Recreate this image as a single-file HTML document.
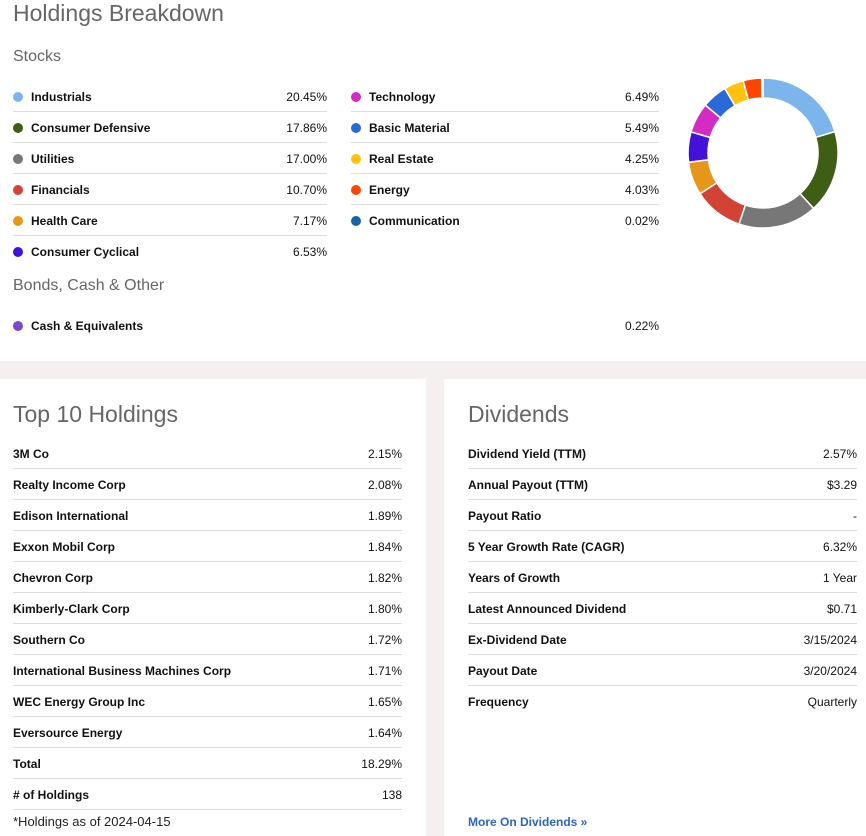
<!DOCTYPE html>
<html><head><meta charset="utf-8"><style>
body{margin:0;width:866px;height:836px;background:#f4f0ef;font-family:"Liberation Sans",Arial,sans-serif;position:relative;overflow:hidden}
.panel{position:absolute;background:#fff}
.h{position:absolute;color:#666;font-size:23px;white-space:nowrap}
.sub{position:absolute;color:#666;font-size:16px}
.row{position:absolute;height:31px;border-bottom:1px solid #ddd;font-size:12px;color:#111;box-sizing:border-box}
.row.last{border-bottom:none}
.row .l{position:absolute;top:9px;font-weight:bold}
.row .v{position:absolute;right:0;top:9px}
.dot{position:absolute;left:0;top:11px;width:10px;height:10px;border-radius:50%}
.foot{position:absolute;font-size:13px;color:#222}
.link{position:absolute;font-size:12px;font-weight:bold;color:#2a65c8}
</style></head><body>
<div class="panel" style="left:0;top:0;width:866px;height:361px"></div>
<div class="panel" style="left:0;top:379px;width:426px;height:457px"></div>
<div class="panel" style="left:444px;top:379px;width:422px;height:457px"></div>
<div class="h" style="left:13px;top:0px">Holdings Breakdown</div>
<div class="sub" style="left:13px;top:48px">Stocks</div>
<div class="sub" style="left:13px;top:277px">Bonds, Cash &amp; Other</div>
<div class="h" style="left:13px;top:401px">Top 10 Holdings</div>
<div class="h" style="left:468px;top:401px">Dividends</div>
<div class="foot" style="left:13px;top:814px">*Holdings as of 2024-04-15</div>
<div class="link" style="left:468px;top:815px">More On Dividends »</div>
<svg id="donut" style="position:absolute;left:680px;top:70px" width="170" height="170"></svg>
<div id="rows"></div>
<script>
const sectorNames=["Industrials","Consumer Defensive","Utilities","Financials","Health Care","Consumer Cyclical","Technology","Basic Material","Real Estate","Energy","Communication"];
const sectorValues=[20.45,17.86,17.00,10.70,7.17,6.53,6.49,5.49,4.25,4.03,0.02];
const sectorColors=["#7cb5ec","#3d5e14","#777777","#d24235","#e6961a","#4312d8","#d42bc4","#2a69d8","#ffc20e","#ff4500","#1565a8"];
const cashNames=["Cash & Equivalents"];
const cashValues=[0.22];
const cashColors=["#7a48c8"];
const topNames=["3M Co","Realty Income Corp","Edison International","Exxon Mobil Corp","Chevron Corp","Kimberly-Clark Corp","Southern Co","International Business Machines Corp","WEC Energy Group Inc","Eversource Energy","Total","# of Holdings"];
const topValues=["2.15%","2.08%","1.89%","1.84%","1.82%","1.80%","1.72%","1.71%","1.65%","1.64%","18.29%","138"];
const divNames=["Dividend Yield (TTM)","Annual Payout (TTM)","Payout Ratio","5 Year Growth Rate (CAGR)","Years of Growth","Latest Announced Dividend","Ex-Dividend Date","Payout Date","Frequency"];
const divValues=["2.57%","$3.29","-","6.32%","1 Year","$0.71","3/15/2024","3/20/2024","Quarterly"];

const root=document.getElementById('rows');
function slug(s){return s.toLowerCase().replace(/[^a-z0-9]+/g,'-').replace(/^-|-$/g,'');}
function addRow(x,y,w,label,val,color,last){
  const r=document.createElement('div');
  r.className='row'+(last?' last':'');
  
  
  r.style.left=x+'px';r.style.top=y+'px';r.style.width=w+'px';
  let off=0;
  if(color){
    const d=document.createElement('span');d.className='dot';d.style.background=color;d.style.left='0px';
    
    
    r.appendChild(d);off=18;
  }
  const l=document.createElement('span');l.className='l';l.style.left=off+'px';l.textContent=label;
  
  
  const v=document.createElement('span');v.className='v';v.textContent=val;
  
  
  r.appendChild(l);r.appendChild(v);root.appendChild(r);
}
sectorNames.forEach((n,i)=>{
  const col=i<6?0:1, k=i<6?i:i-6;
  const x=col?351:13, w=col?308:314;
  const last=col?k===4:k===5;
  addRow(x,81+k*31,w,n,sectorValues[i].toFixed(2)+'%',sectorColors[i],last);
});
cashNames.forEach((n,i)=>addRow(13,310+i*31,646,n,cashValues[i].toFixed(2)+'%',cashColors[i],true));
topNames.forEach((n,i)=>addRow(13,438+i*31,389,n,topValues[i],null,false));
divNames.forEach((n,i)=>addRow(468,438+i*31,389,n,divValues[i],null,i===divNames.length-1));

// donut
const svg=document.getElementById('donut');
const cx=83,cy=83,R=75,r=55;
const total=sectorValues.reduce((a,b)=>a+b,0)+cashValues.reduce((a,b)=>a+b,0);
const allVals=sectorValues.concat(cashValues), allCols=sectorColors.concat(cashColors), allNames=sectorNames.concat(cashNames);
function pt(rad,a){return [cx+rad*Math.sin(a),cy-rad*Math.cos(a)];}
let acc=0;
allVals.forEach((v,i)=>{
  const a0=acc/total*2*Math.PI, a1=(acc+v)/total*2*Math.PI; acc+=v;
  const big=(a1-a0)>Math.PI?1:0;
  const p0=pt(R,a0),p1=pt(R,a1),p2=pt(r,a1),p3=pt(r,a0);
  const p=document.createElementNS('http://www.w3.org/2000/svg','path');
  p.setAttribute('d',`M${p0[0]},${p0[1]}A${R},${R} 0 ${big} 1 ${p1[0]},${p1[1]}L${p2[0]},${p2[1]}A${r},${r} 0 ${big} 0 ${p3[0]},${p3[1]}Z`);
  p.setAttribute('fill',allCols[i]);
  p.setAttribute('stroke','#fff');
  p.setAttribute('stroke-width','1.5');
  
  
  svg.appendChild(p);
});
</script>
</body></html>
